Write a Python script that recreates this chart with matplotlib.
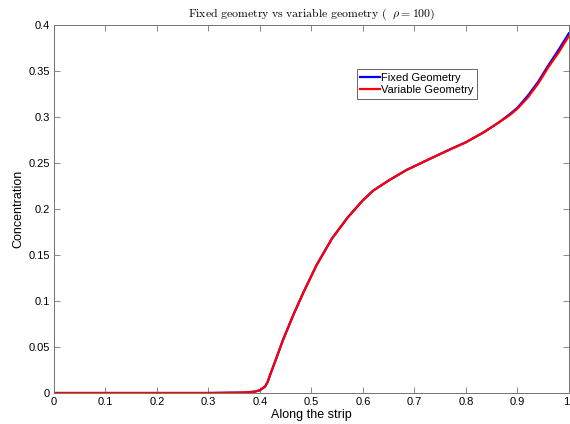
import numpy as np
import matplotlib.pyplot as plt
import matplotlib.transforms as mtransforms

plt.rcParams['font.family'] = 'Liberation Sans'
plt.rcParams['mathtext.fontset'] = 'cm'

# concentration profile along the strip
x = [0, 0.1, 0.2, 0.3, 0.37, 0.39, 0.40, 0.41, 0.415, 0.42, 0.43, 0.445,
     0.465, 0.485, 0.51, 0.54, 0.57, 0.60, 0.62, 0.65, 0.685, 0.73, 0.77,
     0.80, 0.835, 0.865, 0.885, 0.90, 0.92, 0.94, 0.96, 0.98, 0.99, 1.0]
c_fixed = [0, 0, 0, 0, 0.0005, 0.0015, 0.003, 0.007, 0.012, 0.02, 0.035, 0.058,
           0.085, 0.11, 0.139, 0.168, 0.1905, 0.2095, 0.220, 0.231, 0.2425, 0.2545,
           0.265, 0.2725, 0.2835, 0.2945, 0.303, 0.310, 0.323, 0.338, 0.356, 0.373,
           0.382, 0.391]
c_variable = [0, 0, 0, 0, 0.0005, 0.0015, 0.003, 0.007, 0.012, 0.02, 0.035, 0.058,
              0.085, 0.11, 0.139, 0.168, 0.1905, 0.2095, 0.220, 0.231, 0.2425, 0.2545,
              0.265, 0.2725, 0.2835, 0.2945, 0.302, 0.309, 0.321, 0.336, 0.354, 0.370,
              0.379, 0.388]

fig = plt.figure(figsize=(5.7, 4.24), dpi=100)
ax = fig.add_axes([0.0947, 0.0731, 0.9033, 0.8679])

ax.plot(x, c_fixed, color='blue', lw=1.6, label='Fixed Geometry')
ax.plot(x, c_variable, color='red', lw=1.6, label='Variable Geometry')

ax.set_xlim(0, 1)
ax.set_ylim(0, 0.4)
ax.set_xticks(np.arange(0, 1.01, 0.1))
ax.set_xticklabels(['0', '0.1', '0.2', '0.3', '0.4', '0.5', '0.6', '0.7', '0.8', '0.9', '1'])
ax.set_yticks(np.arange(0, 0.41, 0.05))
ax.set_yticklabels(['0', '0.05', '0.1', '0.15', '0.2', '0.25', '0.3', '0.35', '0.4'])
ax.tick_params(direction='in', top=True, right=True, length=4, width=0.6,
               color='0.45', labelsize=8, pad=3)
for s in ax.spines.values():
    s.set_color('0.45')
    s.set_linewidth(0.7)

# keep the last x label inside the figure
last = ax.get_xticklabels()[-1]
last.set_transform(last.get_transform() +
                   mtransforms.ScaledTranslation(-3 / 100, 0, fig.dpi_scale_trans))

ax.set_xlabel('Along the strip', fontsize=9, labelpad=1)
ax.set_ylabel('Concentration', fontsize=9, labelpad=3)
ax.set_title(r'$\mathrm{Fixed\ geometry\ vs\ variable\ geometry\ (\ \ }\rho = 100)$',
             fontsize=8.5, pad=6)

leg = ax.legend(loc='upper left', bbox_to_anchor=(0.588, 0.88), fontsize=8,
                fancybox=False, framealpha=1, edgecolor='0.3', borderpad=0.3,
                handlelength=1.8, handletextpad=0.1, labelspacing=0.25,
                borderaxespad=0)
leg.get_frame().set_linewidth(0.6)

fig.savefig('out.png', dpi=100)
